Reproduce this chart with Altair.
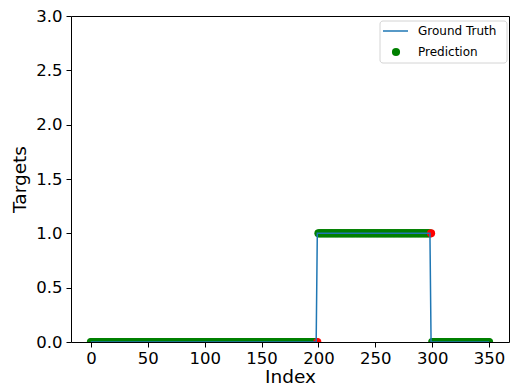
import altair as alt
import pandas as pd

# ---- data ----
n_points = 351                      # indices 0..350
truth_runs = [(0, 198, 0), (199, 298, 1), (299, 350, 0)]   # (start, end, value)
wrong_idx = [199, 299]              # predictions that differ from truth (red)
x_ticks = [0, 50, 100, 150, 200, 250, 300, 350]
y_ticks = [0.0, 0.5, 1.0, 1.5, 2.0, 2.5, 3.0]
legend_labels = ["Ground Truth", "Prediction"]

idx, truth = [], []
for s, e, v in truth_runs:
    for i in range(s, e + 1):
        idx.append(i)
        truth.append(v)
pred = [1 - t if i in wrong_idx else t for i, t in zip(idx, truth)]
df = pd.DataFrame({"Index": idx, "Truth": truth, "Pred": pred,
                   "ok": [i not in wrong_idx for i in idx]})

W, H = 438, 326
xs = alt.Scale(domain=[-17.5, 367.5], nice=False, zero=False)
ys = alt.Scale(domain=[0, 3], nice=False)

xax = alt.Axis(values=x_ticks, title="Index", grid=False, domain=False,
               tickColor="black", tickSize=5, labelFontSize=16.5,
               titleFontSize=18.5, labelColor="black", titleColor="black",
               titleFontWeight="normal", labelPadding=3, titlePadding=1,
               labelFont="DejaVu Sans", titleFont="DejaVu Sans")
yax = alt.Axis(values=y_ticks, format=".1f", title="Targets", grid=False,
               domain=False, tickColor="black", tickSize=5, labelFontSize=16.5,
               titleFontSize=18.5, labelColor="black", titleColor="black",
               titleFontWeight="normal", labelPadding=4, titlePadding=6,
               labelFont="DejaVu Sans", titleFont="DejaVu Sans")

base = alt.Chart(df)
green_pts = base.transform_filter("datum.ok").mark_circle(
    size=66, opacity=1, color="green", clip=True
).encode(x=alt.X("Index:Q", scale=xs, axis=xax),
         y=alt.Y("Pred:Q", scale=ys, axis=yax))
red_pts = base.transform_filter("!datum.ok").mark_circle(
    size=66, opacity=1, color="red", clip=True
).encode(x=alt.X("Index:Q", scale=xs), y=alt.Y("Pred:Q", scale=ys))
line = base.mark_line(color="#1f77b4", strokeWidth=1.5, clip=True).encode(
    x=alt.X("Index:Q", scale=xs), y=alt.Y("Truth:Q", scale=ys))

one = pd.DataFrame({"a": [0]})
lg = alt.Chart(one)
lbox = lg.mark_rect(fill="white", stroke="#d0d0d0", strokeWidth=1,
                    cornerRadius=3, opacity=0.9).encode(
    x=alt.value(309), x2=alt.value(436), y=alt.value(5), y2=alt.value(47))
lline = lg.mark_rule(color="#1f77b4", strokeWidth=1.5).encode(
    x=alt.value(312), x2=alt.value(337), y=alt.value(15))
ldot = lg.mark_circle(size=66, opacity=1, color="green").encode(
    x=alt.value(325), y=alt.value(36))
lt1 = lg.mark_text(text=legend_labels[0], align="left", baseline="middle",
                   fontSize=12, font="DejaVu Sans", color="black").encode(
    x=alt.value(347), y=alt.value(15))
lt2 = lg.mark_text(text=legend_labels[1], align="left", baseline="middle",
                   fontSize=12, font="DejaVu Sans", color="black").encode(
    x=alt.value(347), y=alt.value(36))

chart = alt.layer(green_pts, red_pts, line, lbox, lline, ldot, lt1, lt2).properties(
    width=W, height=H,
    autosize=alt.AutoSizeParams(type="none"),
    padding={"left": 71, "top": 16, "right": 4, "bottom": 45},
).configure(
    background="white",
    view=alt.ViewConfig(stroke="black", strokeWidth=1),
)

chart.save("out.html", embed_options={"renderer": "svg", "actions": False})
